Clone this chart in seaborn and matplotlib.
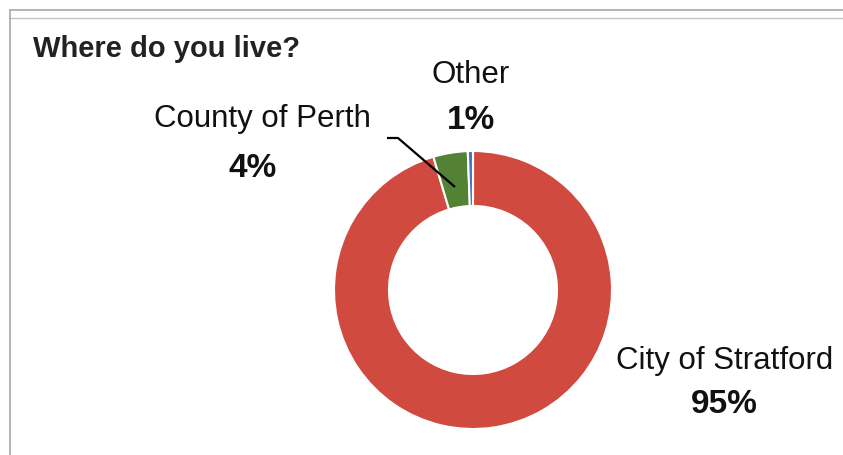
#!/usr/bin/env python3
"""Donut chart: Where do you live?"""

import matplotlib
matplotlib.use("Agg")
import matplotlib.pyplot as plt
from matplotlib.lines import Line2D
import seaborn as sns

# Data
categories = ["City of Stratford", "County of Perth", "Other"]
shares = [95.4, 4.0, 0.6]
colors = ["#D04A3F", "#548235", "#4472C4"]

sns.set_theme(style="white")
plt.rcParams["font.family"] = ["Liberation Sans", "DejaVu Sans"]

W, H = 843, 455
fig = plt.figure(figsize=(W / 100, H / 100), dpi=100)
ax = fig.add_axes([0, 0, 1, 1])


def py(y):
    # pixel row (from top) -> data y
    return H - y


cx, cy = 473, 290
r_out, r_in = 139, 84

ax.pie(shares, colors=colors, startangle=90, counterclock=False,
       radius=r_out, center=(cx, py(cy)),
       wedgeprops=dict(width=r_out - r_in, edgecolor="white", linewidth=1.5))
ax.set_xlim(0, W)
ax.set_ylim(0, H)
ax.set_aspect("equal")
ax.axis("off")

# Labels: (name x, name baseline, pct x, pct baseline)
label_pos = [(725, 369, 724, 413), (262, 127, 253, 177), (471, 83, 471, 129)]
for name, val, (nx, ny, px, pyy) in zip(categories, shares, label_pos):
    ax.text(nx, py(ny), name, ha="center", va="baseline", fontsize=22.5,
            color="#111111")
    ax.text(px, py(pyy), f"{round(val)}%", ha="center", va="baseline",
            fontsize=24, fontweight="bold", color="#111111")

# Leader line for County of Perth
ax.plot([387, 398, 455], [py(138), py(138), py(187)], color="black", lw=1.6,
        solid_capstyle="butt")

# Title
ax.text(33, py(57), "Where do you live?", ha="left", va="baseline",
        fontsize=21, fontweight="bold", color="#222222")

# Chart frame lines
x0 = 9.5 / W
fig.add_artist(Line2D([x0, 1], [1 - 9.5 / H, 1 - 9.5 / H], color="#A8A8A8", lw=1.2))
fig.add_artist(Line2D([x0, 1], [1 - 18 / H, 1 - 18 / H], color="#C4C4C4", lw=1.0))
fig.add_artist(Line2D([x0, x0], [0, 1 - 9.5 / H], color="#A8A8A8", lw=1.2))

fig.savefig("out.png", dpi=100, facecolor="white")
